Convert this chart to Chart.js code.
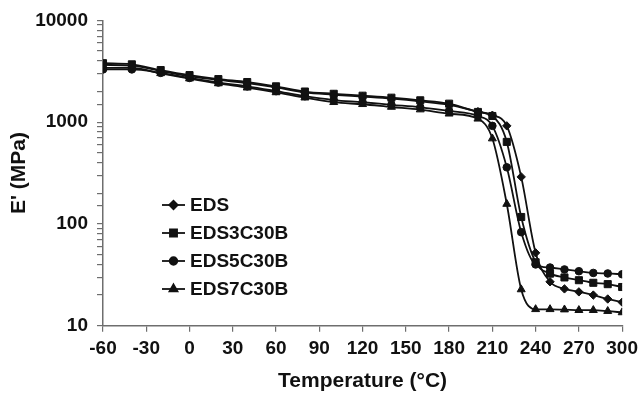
<!DOCTYPE html>
<html>
<head>
<meta charset="utf-8">
<script src="https://cdn.jsdelivr.net/npm/chart.js@4"></script>
<style>
  html, body { margin: 0; padding: 0; background: #fff; }
  #wrap { width: 644px; height: 398px; position: relative; }
</style>
</head>
<body>
<div id="wrap"><canvas id="modulusChart"></canvas></div>
<script>
// ── Data ──────────────────────────────────────────────────────────────────
const temps = [-60, -40, -20, 0, 20, 40, 60, 80, 100, 120, 140, 160, 180, 200,
               210, 220, 230, 240, 250, 260, 270, 280, 290, 300];

const eds     = [3650, 3600, 3180, 2820, 2600, 2420, 2200, 1960, 1860, 1780, 1700, 1600, 1480, 1270,
                 1170, 920, 290, 52, 27, 23, 21.5, 20, 18.3, 17];
const eds3c   = [3800, 3700, 3250, 2900, 2650, 2480, 2250, 2000, 1900, 1820, 1740, 1640, 1520, 1260,
                 1150, 640, 117, 42, 32.5, 29.8, 28, 26.4, 25.6, 24];
const eds5c   = [3300, 3300, 3050, 2720, 2450, 2250, 2020, 1800, 1650, 1570, 1480, 1400, 1290, 1150,
                 920, 360, 83, 40, 37.3, 35.7, 34.3, 33, 32.6, 32];
const eds7c   = [3420, 3420, 3020, 2680, 2400, 2180, 1960, 1740, 1570, 1500, 1410, 1330, 1210, 1080,
                 690, 157, 22.7, 14.5, 14.5, 14.4, 14.2, 14.2, 13.9, 13.5];

const seriesNames  = ['EDS', 'EDS3C30B', 'EDS5C30B', 'EDS7C30B'];
const seriesValues = [eds, eds3c, eds5c, eds7c];
const seriesStyles = ['rectRot', 'rect', 'circle', 'triangle'];
const seriesRadius = [4.2, 5, 3.8, 4.6];

const xTicks = [-60, -30, 0, 30, 60, 90, 120, 150, 180, 210, 240, 270, 300];

// ── Theme ─────────────────────────────────────────────────────────────────
const INK   = '#111';
const AXIS  = '#6e6e6e';
const FONT  = "'Liberation Sans', Arial, sans-serif";

// legend drawn inside the plot, line + marker like the original
const insideLegend = {
    id: 'insideLegend',
    afterDatasetsDraw(chart) {
        const ctx = chart.ctx;
        const x0 = 162, x1 = 185, tx = 190;
        const rows = [205, 233, 261, 289];
        ctx.save();
        ctx.font = 'bold 19px ' + FONT;
        ctx.textBaseline = 'middle';
        seriesNames.forEach((name, i) => {
            const y = rows[i];
            ctx.strokeStyle = INK;
            ctx.lineWidth = 1.8;
            ctx.beginPath();
            ctx.moveTo(x0, y);
            ctx.lineTo(x1, y);
            ctx.stroke();
            ctx.fillStyle = INK;
            Chart.helpers.drawPoint(ctx, {
                pointStyle: seriesStyles[i],
                radius: seriesRadius[i],
                borderWidth: 1
            }, (x0 + x1) / 2, y);
            ctx.fillText(name, tx, y + 1);
        });
        ctx.restore();
    }
};

const datasets = seriesNames.map((name, i) => ({
    label: name,
    data: temps.map((t, k) => ({ x: t, y: seriesValues[i][k] })),
    borderColor: INK,
    backgroundColor: INK,
    borderWidth: 1.8,
    pointStyle: seriesStyles[i],
    pointRadius: seriesRadius[i],
    pointBackgroundColor: INK,
    pointBorderColor: INK,
    pointBorderWidth: 1,
    cubicInterpolationMode: 'monotone',
    fill: false
}));

new Chart(document.getElementById('modulusChart'), {
    type: 'line',
    data: { datasets },
    options: {
        responsive: true,
        maintainAspectRatio: false,
        animation: false,
        layout: { padding: { left: 0, right: 18, top: 19, bottom: 0 } },
        plugins: {
            legend: { display: false },
            tooltip: { enabled: false }
        },
        scales: {
            x: {
                type: 'linear',
                min: -60,
                max: 300,
                afterBuildTicks: s => { s.ticks = xTicks.map(v => ({ value: v })); },
                afterFit: s => { s.height = 72.3; },
                border: { display: true, color: AXIS, width: 1.5 },
                grid: { display: true, drawOnChartArea: false, drawTicks: true, tickLength: 6, color: AXIS, lineWidth: 1.2 },
                ticks: { color: INK, font: { family: FONT, size: 19, weight: 'bold' }, padding: 6, maxRotation: 0 },
                title: {
                    display: true,
                    text: 'Temperature (°C)',
                    color: INK,
                    font: { family: FONT, size: 21, weight: 'bold' },
                    padding: { top: 4, bottom: 4 }
                }
            },
            y: {
                type: 'logarithmic',
                min: 10,
                max: 10000,
                afterFit: s => { s.width = 103; },
                border: { display: true, color: AXIS, width: 1.5 },
                grid: { display: true, drawOnChartArea: false, drawTicks: true, tickLength: 6, color: AXIS, lineWidth: 1.2 },
                ticks: {
                    autoSkip: false,
                    color: INK,
                    padding: 9,
                    font: { family: FONT, size: 19, weight: 'bold' },
                    callback: v => {
                        const l = Math.log10(v);
                        return Math.abs(l - Math.round(l)) < 1e-9 ? String(v) : '';
                    }
                },
                title: {
                    display: true,
                    text: "E' (MPa)",
                    color: INK,
                    font: { family: FONT, size: 21, weight: 'bold' },
                    padding: { top: 7, bottom: 0 }
                }
            }
        }
    },
    plugins: [insideLegend]
});
</script>
</body>
</html>
